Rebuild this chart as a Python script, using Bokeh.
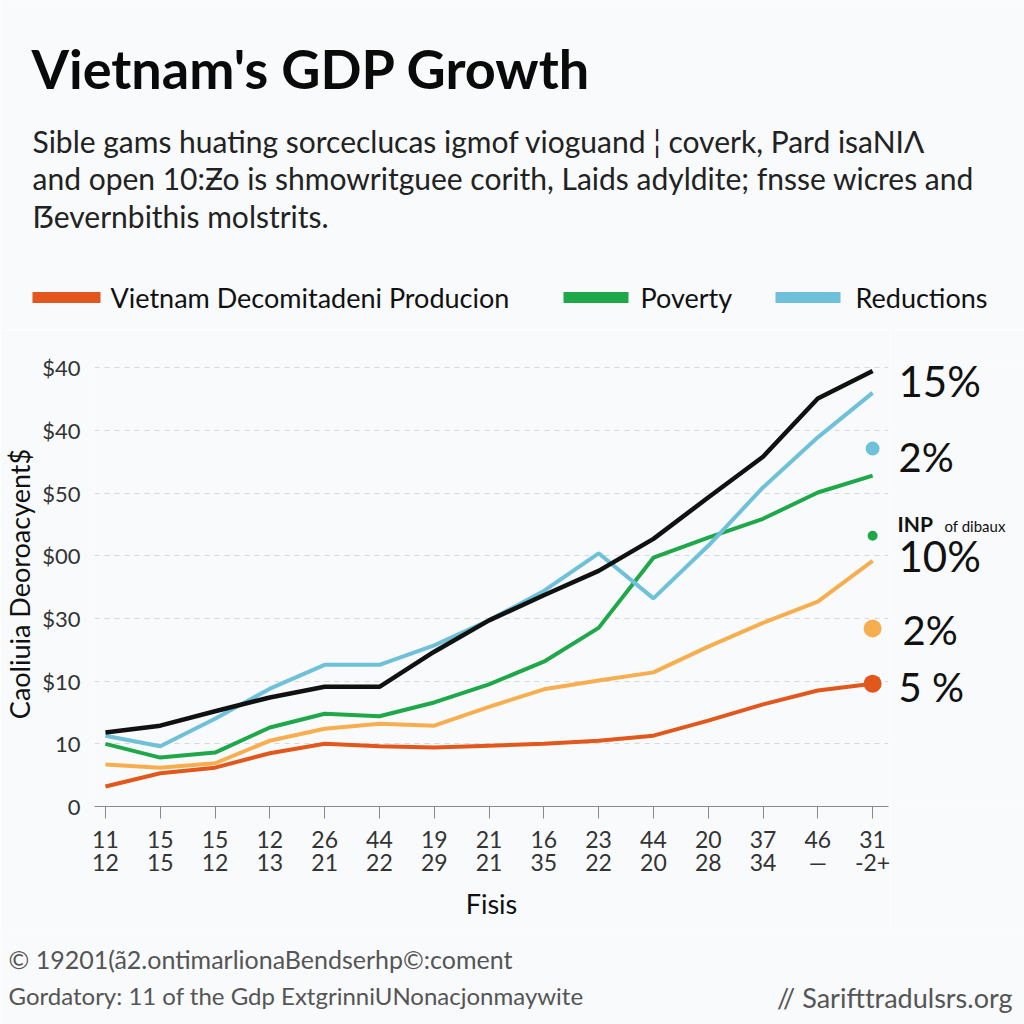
from bokeh.plotting import figure
from bokeh.models import FixedTicker, Range1d
from bokeh.layouts import column, row
from bokeh.core.properties import value
from bokeh.embed import file_html
from bokeh.resources import INLINE

# ---------------- data ----------------
x_idx = list(range(15))
tick_top = ["11", "15", "15", "12", "26", "44", "19", "21", "16", "23", "44", "20", "37", "46", "31"]
tick_bottom = ["12", "15", "12", "13", "21", "22", "29", "21", "35", "22", "20", "28", "34", "—", "-2+"]
y_ticks = [0, 10, 20, 30, 40, 50, 60, 70]
y_labels = ["0", "10", "$10", "$30", "$00", "$50", "$40", "$40"]

total = [11.8, 12.9, 15.2, 17.4, 19.1, 19.1, 24.7, 29.7, 33.7, 37.6, 42.7, 49.3, 55.8, 65.1, 69.5]
reductions = [11.3, 9.6, 14.0, 18.8, 22.6, 22.6, 25.7, 29.7, 34.4, 40.4, 33.2, 41.6, 50.9, 58.9, 66.0]
poverty = [10.0, 7.8, 8.6, 12.6, 14.8, 14.4, 16.6, 19.5, 23.1, 28.5, 39.7, 42.9, 45.9, 50.1, 52.8]
other = [6.7, 6.2, 6.9, 10.5, 12.4, 13.2, 12.9, 15.9, 18.7, 20.1, 21.4, 25.5, 29.3, 32.7, 39.2]
production = [3.2, 5.3, 6.2, 8.5, 10.0, 9.6, 9.4, 9.7, 10.0, 10.5, 11.3, 13.7, 16.3, 18.5, 19.6]

end_x = [14, 14, 14, 14]
end_y = [57.1, 43.2, 28.4, 19.6]
end_sizes = [14, 10, 18, 18]

end_labels = ["15%", "2%", "10%", "2%", "5 %"]
end_label_y = [67.9, 55.8, 39.9, 28.1, 19.1]
note_y = 45.1
legend_labels = ["Vietnam Decomitadeni Producion", "Poverty", "Reductions"]

BG = "#F8FAFB"
RED = "#E2571C"
GREEN = "#1EA84A"
BLUE = "#6EC1D8"
ORANGE = "#F7AE4E"
BLACK = "#111111"
end_colors = [BLUE, GREEN, ORANGE, RED]

# layout geometry (canvas px)
TOP_H = 330            # header band
MID_H = 600            # chart band
BOT_H = 1024 - TOP_H - MID_H
MAIN_W = 890
FL, FT, FB = 94, 361, 806


def blank(w, h, y_range=None):
    f = figure(width=w, height=h, output_backend="svg", toolbar_location=None,
               x_range=Range1d(0, w), y_range=y_range if y_range is not None else Range1d(h, 0),
               x_axis_type=None, y_axis_type=None,
               min_border=0, background_fill_color=BG, border_fill_color=BG)
    f.outline_line_color = None
    f.grid.visible = False
    return f


def txt(f, s, x, y, size, color="#111111", style="normal", font="Lato", align="left", baseline="middle"):
    f.text([x], [y], text=[s], text_font=value(font), text_font_size=value(f"{size}px"),
           text_color=color, text_font_style=style, text_baseline=baseline, text_align=align)


# ---------------- header ----------------
top = blank(1024, TOP_H)
txt(top, "Vietnam's GDP Growth", 31, 68, 54, "#0A0A0A", "bold", "Lato", baseline="alphabetic")
txt(top, "Sible gams huating sorceclucas igmof vioguand ¦ coverk, Pard isaNIΛ", 32, 140, 30, "#222222")
txt(top, "and open 10:Ƶo is shmowritguee corith, Laids adyldite; fnsse wicres and", 32, 177, 30, "#222222")
txt(top, "ẞevernbithis molstrits.", 32, 215, 30, "#222222")

sw_x0 = [32, 563, 775]
sw_x1 = [100, 628, 840]
lab_x = [110, 640, 855]
for c, x0, x1, lx, s in zip([RED, GREEN, BLUE], sw_x0, sw_x1, lab_x, legend_labels):
    top.segment([x0], [297], [x1], [297], line_color=c, line_width=11)
    txt(top, s, lx, 297, 27, "#111111")

# ---------------- main chart ----------------
p = figure(width=MAIN_W, height=MID_H, output_backend="svg", toolbar_location=None,
           x_range=(-0.2, 14.29), y_range=(0, 71),
           min_border_left=FL, min_border_right=2,
           min_border_top=FT - TOP_H, min_border_bottom=TOP_H + MID_H - FB,
           background_fill_color=BG, border_fill_color=BG)
p.outline_line_color = None

p.xaxis.ticker = FixedTicker(ticks=x_idx)
p.xaxis.major_label_overrides = {i: f"{a}\n{b}" for i, a, b in zip(x_idx, tick_top, tick_bottom)}
p.xaxis.major_label_text_font = "Lato"
p.xaxis.major_label_text_font_size = "23px"
p.xaxis.major_label_text_line_height = 0.85
p.xaxis.major_label_text_color = "#333333"
p.xaxis.axis_line_color = "#8A8A8A"
p.xaxis.major_tick_line_color = "#8A8A8A"
p.xaxis.major_tick_out = 12
p.xaxis.major_tick_in = 0
p.xaxis.minor_tick_line_color = None
p.xaxis.major_label_standoff = 6
p.xaxis.axis_label = "Fisis"
p.xaxis.axis_label_text_font = "Lato"
p.xaxis.axis_label_text_font_style = "normal"
p.xaxis.axis_label_text_font_size = "27px"
p.xaxis.axis_label_text_color = "#111111"
p.xaxis.axis_label_standoff = 8

p.yaxis.ticker = FixedTicker(ticks=y_ticks)
p.yaxis.major_label_overrides = {t: l for t, l in zip(y_ticks, y_labels)}
p.yaxis.major_label_text_font = "Lato"
p.yaxis.major_label_text_font_size = "22px"
p.yaxis.major_label_text_color = "#333333"
p.yaxis.axis_line_color = None
p.yaxis.major_tick_line_color = None
p.yaxis.minor_tick_line_color = None
p.yaxis.major_label_standoff = 8
p.yaxis.axis_label = "Caoliuia Deoroacyent$"
p.yaxis.axis_label_text_font = "Lato"
p.yaxis.axis_label_text_font_style = "normal"
p.yaxis.axis_label_text_font_size = "27px"
p.yaxis.axis_label_text_color = "#111111"
p.yaxis.axis_label_standoff = 3

p.xgrid.grid_line_color = None
p.ygrid.grid_line_color = "#D8D8D8"
p.ygrid.grid_line_dash = "5 5"

p.line(x_idx, production, line_color=RED, line_width=4)
p.line(x_idx, other, line_color=ORANGE, line_width=4)
p.line(x_idx, poverty, line_color=GREEN, line_width=4)
p.line(x_idx, reductions, line_color=BLUE, line_width=4)
p.line(x_idx, total, line_color=BLACK, line_width=4.5)
p.scatter(end_x, end_y, size=end_sizes, color=end_colors, line_color=None)

# ---------------- right annotations (frame aligned with the chart) ----------------
side = blank(1024 - MAIN_W, MID_H, y_range=p.y_range)
side.min_border_top = FT - TOP_H
side.min_border_bottom = TOP_H + MID_H - FB
ann_x = [8, 8, 8, 12, 8]
ann_size = [42, 40, 42, 40, 40]
for s, x, y, sz in zip(end_labels, ann_x, end_label_y, ann_size):
    txt(side, s, x, y, sz)
txt(side, "INP", 7, note_y, 21, style="bold")
txt(side, "of dibaux", 54, note_y - 0.4, 15)

# ---------------- footer ----------------
bot = blank(1024, BOT_H)
y0 = TOP_H + MID_H
txt(bot, "© 19201(ã2.ontimarlionaBendserhp©:coment", 8, 958 - y0, 25, "#555555")
txt(bot, "Gordatory: 11 of the Gdp ExtgrinniUNonacjonmaywite", 8, 995 - y0, 24, "#555555")
txt(bot, "// Sarifttradulsrs.org", 1012, 997 - y0, 27, "#555555", align="right")

layout = column(top, row(p, side, spacing=0), bot, spacing=0)
open("out.html", "w").write(file_html(layout, INLINE))
